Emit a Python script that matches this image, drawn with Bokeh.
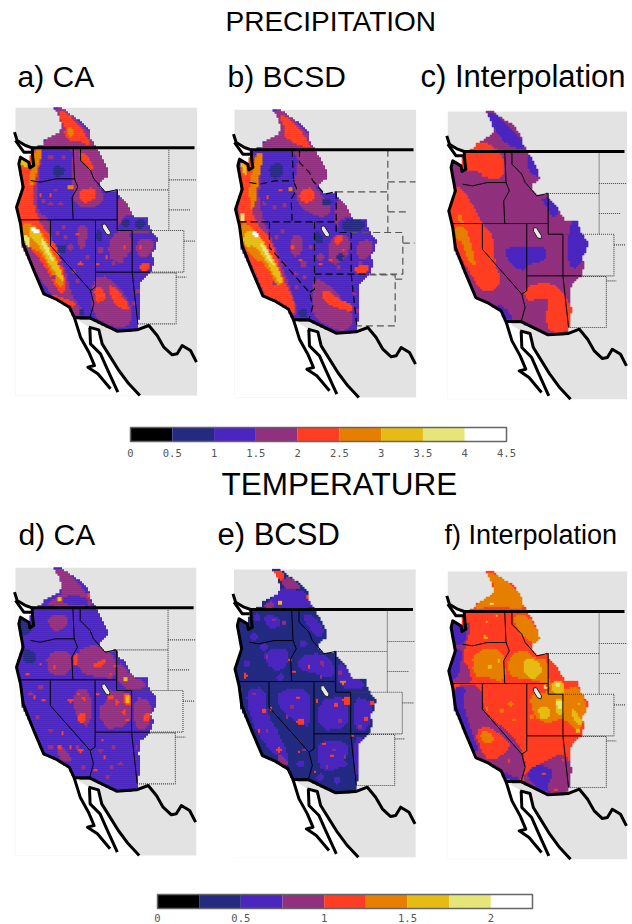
import numpy as np
from bokeh.plotting import figure
from bokeh.models import Range1d
from bokeh.core.properties import value
from bokeh.embed import file_html
from bokeh.resources import INLINE

# ---------- colour bins (shared by both colour bars) ----------
BIN_COLORS = ["#000000", "#232a80", "#4a25be", "#90307e", "#ff3d22",
              "#e67f00", "#e6bc14", "#e6e678", "#ffffff"]
PRECIP_EDGES = [0, 0.5, 1, 1.5, 2, 2.5, 3, 3.5, 4, 4.5]
PRECIP_LABELS = ["0", "0.5", "1", "1.5", "2", "2.5", "3", "3.5", "4", "4.5"]
TEMP_EDGES = [0, 0.25, 0.5, 0.75, 1, 1.25, 1.5, 1.75, 2, 2.25]
TEMP_TICKS = [0, 0.5, 1, 1.5, 2]
TEMP_LABELS = ["0", "0.5", "1", "1.5", "2"]

# ---------- shared geography ----------
DOMAIN = [(160,53),(185,53),(205,70),(240,90),(265,120),(270,145),(285,170),(300,195),(320,235),
          (322,255),(300,270),(298,285),(315,305),(348,298),(352,315),(375,335),(400,380),(440,378),
          (445,410),(470,445),(465,470),(450,490),(460,510),(450,545),(420,570),(415,610),(420,650),
          (412,700),(410,718),(350,722),(270,685),(220,682),(205,650),(165,625),(130,610),(100,540),
          (65,470),(60,400),(48,350),(65,290),(55,220),(60,200),(85,215),(95,170),(125,165),(130,150),
          (165,130),(175,125),(185,110),(175,75)]
OCEAN = [(45,150),(75,168),(95,178),(100,225),(88,232),(85,215),(60,200),(68,290),(48,350),(60,400),
         (68,460),(100,540),(130,610),(165,625),(210,650),(222,682),(250,700),(265,710),(295,720),
         (305,760),(330,800),(355,840),(385,880),(415,915),(45,915)]
LAND_RECT = [(45,52),(590,52),(590,915),(45,915)]
LAKE = [(305,402),(314,400),(330,425),(328,434),(318,431),(306,412)]
BORDER_CANADA = [(95,172),(582,172)]
COAST_LINES = [
    [(42,125),(50,150),(75,165),(95,172),(97,205),(100,225),(88,232),(85,215),(60,200),(55,220),
     (68,290),(48,350),(60,400),(68,460),(100,540),(130,610),(165,625),(207,650),(222,682),
     (268,682),(350,722),(410,718),(445,705),(470,735),(490,770),(515,793),(530,790),(545,765),
     (570,780),(588,815)],
    [(45,150),(70,185),(92,185)],
    [(222,682),(240,740),(265,785),(282,825),(262,830),(292,850),(330,895)],
    [(268,712),(270,760),(300,790),(320,835),(352,905)],
    [(265,710),(295,718),(305,760),(330,800),(355,840),(385,880),(418,915)],
]
STATE_LINES = [
    [(90,270),(120,275),(165,265),(225,265)],
    [(218,172),(222,265),(232,290),(215,320),(218,388)],
    [(60,388),(350,388)],
    [(240,172),(240,210),(270,240),(280,265),(298,285),(315,305),(348,298)],
    [(350,298),(350,420),(395,420),(395,545)],
    [(285,388),(285,590),(270,600)],
    [(285,545),(450,545)],
    [(150,388),(150,465),(270,600),(280,640),(268,682)],
    [(395,545),(412,700)],
]
EAST_LINES = [
    [(505,172),(505,420)],
    [(505,268),(588,268)],
    [(350,298),(505,298)],
    [(505,358),(570,358)],
    [(395,420),(550,420),(550,545),(450,545)],
    [(550,452),(585,452)],
    [(450,547),(527,547),(527,700),(412,700)],
    [(527,560),(558,560)],
]

# ---------- panel colour regions: (bin, outline) in each panel's own sketch units ----------
BLOBS_A = [
 (3,[(120,175),(130,150),(165,130),(180,120),(160,50),(195,55),(265,120),(285,170),(325,235),(325,260),(290,285),(280,260),(240,215),(215,175)]),
 (4,[(175,60),(200,65),(240,110),(260,140),(272,165),(250,160),(230,150),(205,150),(190,130),(195,110),(180,90)]),
 (5,[(200,110),(215,112),(222,135),(205,138)]),
 (2,[(130,172),(215,172),(218,210),(200,250),(150,262),(125,240)]),
 (3,[(215,180),(245,195),(280,270),(312,310),(305,340),(260,355),(220,340),(215,280)]),
 (4,[(235,300),(280,290),(290,320),(255,340),(235,325)]),
 (4,[(240,180),(265,200),(285,240),(270,235),(240,205)]),
 (3,[(60,195),(125,170),(120,230),(110,300),(110,360),(150,390),(150,450),(195,530),(215,620),(250,660),(225,680),(165,630),(100,540),(50,440),(45,350),(55,290)]),
 (4,[(60,200),(125,175),(115,230),(95,310),(110,385),(160,450),(185,520),(200,600),(175,610),(130,520),(85,470),(50,390),(55,290)]),
 (5,[(100,180),(130,175),(115,220),(100,280),(85,290),(90,240)]),
 (5,[(65,395),(100,400),(135,440),(175,520),(195,580),(175,590),(145,530),(115,480),(80,470),(60,440)]),
 (6,[(85,405),(115,420),(150,480),(185,545),(190,575),(175,565),(140,510),(110,455),(90,445)]),
 (7,[(118,440),(135,452),(165,520),(157,518),(128,470)]),
 (8,[(92,410),(112,413),(118,430),(100,430)]),
 (7,[(68,430),(90,440),(90,470),(75,465)]),
 (6,[(55,205),(85,215),(80,230),(60,225)]),
 (4,[(145,612),(185,620),(230,640),(215,650),(170,632)]),
 (3,[(280,560),(325,555),(395,640),(395,700),(350,715),(280,680),(270,620)]),
 (2,[(345,560),(395,555),(395,620)]),
 (4,[(320,585),(345,590),(390,650),(375,660),(340,640)]),
 (4,[(280,590),(310,590),(315,630),(285,640)]),
 (3,[(320,460),(350,420),(395,430),(395,490),(330,520)]),
 (3,[(405,455),(440,440),(465,460),(445,500),(410,500)]),
 (3,[(350,310),(375,335),(400,375),(370,375),(350,420)]),
 (3,[(350,420),(445,420),(445,430),(350,430)]),
 (4,[(415,520),(445,515),(445,540),(420,540)]),
 (3,[(225,410),(265,400),(255,470),(235,480)]),
 (1,[(160,225),(195,230),(190,255),(160,260)]),
 (1,[(365,385),(390,385),(385,410),(365,410)]),
 (1,[(405,385),(435,385),(430,415),(405,415)]),
 (1,[(290,410),(305,430),(305,450),(285,450)]),
 (1,[(172,460),(198,465),(195,490),(175,490)]),
 (1,[(235,655),(250,655),(250,675),(238,675)]),
]
BLOBS_B = [
 (3,[(120,180),(130,155),(160,130),(180,120),(158,55),(190,60),(262,125),(282,175),(320,240),(320,265),(290,290),(270,250),(235,210),(215,180)]),
 (4,[(175,75),(195,75),(240,120),(262,150),(272,175),(240,165),(215,155),(190,135),(195,115)]),
 (2,[(135,185),(215,185),(218,260),(130,320),(115,310),(125,240)]),
 (1,[(145,225),(185,215),(190,260),(150,265)]),
 (3,[(235,190),(270,225),(285,290),(310,320),(340,360),(300,385),(235,350),(220,290)]),
 (4,[(240,300),(275,290),(285,320),(260,340),(235,325)]),
 (3,[(55,215),(125,185),(120,240),(115,330),(130,395),(150,430),(190,540),(225,630),(230,685),(205,660),(130,625),(90,530),(50,430),(48,340)]),
 (4,[(55,215),(105,190),(85,300),(100,390),(150,440),(190,570),(225,640),(225,680),(180,630),(140,625),(110,560),(60,450),(50,350)]),
 (5,[(105,190),(130,190),(115,260),(105,340),(90,360),(85,290),(95,240)]),
 (6,[(55,215),(80,225),(75,260),(65,235)]),
 (5,[(60,395),(100,410),(140,470),(190,570),(170,590),(135,520),(90,500),(60,440)]),
 (6,[(85,420),(115,430),(150,490),(185,560),(185,585),(165,565),(130,500),(100,465),(75,470),(65,440)]),
 (7,[(60,365),(72,370),(72,395),(60,395)]),
 (7,[(118,455),(135,465),(165,530),(155,525),(128,485)]),
 (8,[(92,422),(112,425),(118,440),(98,438)]),
 (3,[(280,560),(325,580),(395,660),(395,715),(350,722),(280,685),(272,620)]),
 (4,[(300,600),(330,600),(350,625),(395,640),(395,665),(345,650),(310,635)]),
 (3,[(320,465),(345,430),(390,440),(385,500),(330,530)]),
 (3,[(405,460),(440,445),(462,460),(445,505),(410,505)]),
 (4,[(400,530),(440,520),(445,545),(410,550)]),
 (4,[(340,440),(370,430),(365,455),(345,465)]),
 (3,[(205,440),(250,430),(245,490),(215,505)]),
 (3,[(345,320),(375,340),(395,380),(360,385),(345,425)]),
 (1,[(365,385),(432,385),(430,420),(365,425)]),
 (1,[(285,420),(305,430),(305,460),(285,460)]),
 (1,[(305,325),(335,330),(330,345),(305,345)]),
 (1,[(350,490),(370,490),(368,515),(350,512)]),
 (1,[(235,660),(258,655),(258,680),(238,680)]),
]
BLOBS_C = [
 (2,[(165,65),(190,65),(240,110),(275,150),(285,180),(230,165),(195,120),(180,95)]),
 (2,[(290,185),(305,200),(330,240),(325,260),(300,250),(290,225)]),
 (2,[(330,325),(360,320),(390,360),(365,385),(350,350)]),
 (2,[(420,390),(445,395),(475,455),(465,495),(440,535),(415,525),(410,470)]),
 (2,[(225,470),(285,470),(350,470),(345,510),(300,520),(270,545),(225,500)]),
 (2,[(195,640),(225,650),(250,690),(220,685)]),
 (4,[(105,185),(135,155),(165,155),(220,190),(220,265),(170,265),(140,240),(100,245),(90,225)]),
 (4,[(75,280),(100,300),(130,350),(155,400),(190,440),(190,510),(215,575),(185,605),(150,600),(115,540),(70,470),(55,380),(65,320)]),
 (5,[(80,380),(90,370),(100,400),(95,405)]),
 (5,[(70,410),(105,405),(130,490),(135,530),(110,505),(95,455),(75,445)]),
 (4,[(280,590),(345,575),(385,590),(420,640),(430,680),(415,725),(355,725),(345,680),(355,630),(335,620),(285,635)]),
]
BLOBS_D = [
 (3,[(160,55),(195,55),(260,130),(280,170),(130,170),(165,140),(185,130),(180,90)]),
 (2,[(190,135),(250,135),(270,168),(185,160)]),
 (3,[(135,195),(205,195),(195,235),(155,245)]),
 (3,[(225,300),(290,280),(345,315),(345,385),(290,380),(235,365)]),
 (3,[(350,320),(395,380),(430,390),(435,415),(355,415)]),
 (3,[(295,415),(390,425),(390,530),(300,535)]),
 (3,[(400,435),(460,455),(445,535),(400,535)]),
 (3,[(135,310),(210,295),(210,375),(145,375)]),
 (3,[(215,420),(270,410),(270,540),(225,500)]),
 (3,[(175,580),(215,620),(205,640),(170,620)]),
 (1,[(50,205),(90,210),(90,250),(60,260)]),
 (1,[(65,290),(110,310),(100,340),(70,340)]),
 (2,[(300,400),(325,440),(300,470),(285,440)]),
 (4,[(222,305),(232,310),(230,345),(218,340)]),
 (4,[(230,490),(255,485),(255,515),(235,518)]),
 (4,[(275,340),(315,325),(318,340),(280,355)]),
 (4,[(365,430),(395,430),(395,465),(370,465)]),
 (6,[(372,435),(390,435),(388,458),(375,458)]),
 (4,[(430,490),(450,490),(448,515),(432,515)]),
]
BLOBS_E = [
 (2,[(125,178),(165,125),(190,110),(200,110),(270,130),(282,178)]),
 (3,[(175,85),(215,80),(245,118),(205,118),(190,105)]),
 (4,[(155,60),(185,60),(195,85),(175,92)]),
 (3,[(125,170),(150,150),(160,160),(155,175)]),
 (2,[(130,300),(205,290),(200,345),(170,365),(135,340)]),
 (2,[(125,195),(170,195),(185,225),(150,240)]),
 (2,[(240,190),(280,195),(312,235),(300,265),(270,240)]),
 (2,[(235,320),(300,305),(340,335),(340,385),(285,370),(235,355)]),
 (2,[(350,325),(385,365),(425,390),(435,415),(355,415)]),
 (2,[(170,420),(270,410),(270,530),(235,520),(170,470)]),
 (2,[(290,450),(385,435),(385,535),(295,540)]),
 (2,[(400,435),(460,455),(445,540),(400,540)]),
 (2,[(75,415),(135,410),(140,490),(180,555),(210,635),(180,625),(135,585),(90,510)]),
 (2,[(290,570),(380,570),(385,620),(330,670),(290,645)]),
 (2,[(400,560),(435,560),(412,610),(415,665),(400,685)]),
 (4,[(365,440),(390,438),(388,465),(370,465)]),
 (3,[(170,610),(200,625),(205,650),(175,635)]),
]
BLOBS_F = [
 (5,[(165,37),(190,37),(240,70),(275,110),(280,150),(225,140),(190,135),(130,150),(140,128),(185,100),(195,80),(180,60)]),
 (5,[(245,165),(290,160),(330,225),(320,250),(285,235),(265,215)]),
 (5,[(280,260),(320,300),(350,290),(355,370),(400,390),(440,370),(470,430),(450,520),(400,470),(350,490),(310,470),(295,400),(355,395),(355,370),(290,355),(240,350),(225,300)]),
 (5,[(130,270),(220,260),(225,370),(175,350),(125,345)]),
 (3,[(95,190),(125,190),(105,255),(95,300),(115,320),(125,370),(65,370),(55,340),(70,260)]),
 (2,[(55,185),(100,190),(110,220),(100,250),(75,260),(60,220)]),
 (2,[(70,265),(95,265),(90,310),(85,345),(65,360),(55,340)]),
 (3,[(65,375),(155,375),(155,440),(190,480),(245,520),(285,590),(280,660),(230,660),(150,600),(90,510),(60,430)]),
 (2,[(70,380),(110,380),(95,420),(110,470),(125,520),(145,570),(125,570),(90,510),(65,440)]),
 (4,[(130,510),(175,495),(230,540),(240,560),(195,600),(160,590)]),
 (5,[(145,515),(175,510),(195,540),(165,555)]),
 (2,[(160,600),(230,640),(280,660),(225,660)]),
 (3,[(280,640),(345,600),(400,575),(430,625),(415,700),(355,705),(280,670)]),
 (2,[(290,630),(330,610),(370,630),(350,680),(360,700),(300,670)]),
 (6,[(280,290),(320,300),(340,330),(310,360),(280,340)]),
 (6,[(360,360),(400,360),(400,400),(370,405)]),
 (6,[(370,415),(400,415),(400,460),(380,465)]),
 (7,[(375,420),(395,420),(393,445),(382,445)]),
 (7,[(375,368),(390,368),(388,380),(378,380)]),
 (6,[(420,440),(450,470),(455,500),(430,480)]),
 (6,[(320,440),(360,440),(360,470),(330,480)]),
]

# small isolated cells: (x, y, bin, size class 0/1/2)
SPOTS_A = [(150,315,4,0),(230,430,4,0),(240,520,4,1),(320,500,4,0),(290,520,4,0),(120,315,4,0),(370,470,4,0),(420,470,4,0),(210,290,5,1),
           (170,430,3,1),(190,410,3,1),(240,450,3,2),(260,500,3,1),(180,520,3,1),(220,540,3,1),(300,480,3,2),(360,510,3,2),(420,480,3,1),
           (130,330,3,1),(150,340,3,1),(180,340,3,1),(160,560,3,1),(230,570,3,1),(330,670,3,1),(340,520,3,1),(210,470,3,2),(195,440,3,1),
           (165,300,3,0),(150,200,3,1),(190,200,3,1),(400,640,3,1),(410,600,3,1)]
SPOTS_B = [(210,295,5,1),(240,510,4,0),(330,510,4,0),(300,520,4,0),(140,320,4,0),(215,470,4,1),(370,480,4,0),(180,300,4,0),
           (170,440,3,1),(185,420,3,1),(250,520,3,2),(270,470,3,1),(190,520,3,1),(225,550,3,1),(300,500,3,2),(355,530,3,1),(420,520,3,1),
           (130,340,3,1),(160,350,3,1),(190,345,3,1),(160,580,3,1),(230,590,3,1),(250,560,3,1),(410,660,3,1),(400,610,3,1)]
SPOTS_C = [(155,258,4,0),(405,625,4,0)]
SPOTS_D = [(178,148,6,1),(265,135,4,1),(375,388,6,1),(350,455,4,1),(210,450,4,1),(178,592,4,1),(240,600,4,1),(370,485,4,1),
           (330,440,4,1),(235,432,4,0),(305,568,4,0),(285,660,4,0),(310,620,4,0),(120,340,4,0),(80,370,4,0),(130,450,4,0),
           (210,590,4,0),(100,440,4,0),(185,548,4,0),(145,640,4,0),(330,370,4,0),(345,345,4,0),(160,350,4,0),(290,430,4,0),
           (250,445,4,0),(380,510,4,0),(190,200,3,1),(360,640,3,1),(335,650,3,1),(90,430,3,1),(120,410,3,1),(110,500,3,1),
           (150,540,3,1),(230,590,3,1),(300,600,3,1),(340,590,3,1),(320,680,3,1),(250,650,3,1),(150,590,3,1),(410,590,3,0)]
SPOTS_E = [(178,155,6,1),(262,140,4,1),(75,376,4,1),(368,395,5,1),(345,465,4,1),(240,513,4,2),(175,598,4,1),(132,480,4,1),
           (438,505,4,1),(455,458,4,1),(310,578,4,0),(335,615,4,0),(285,665,4,0),(232,440,4,0),(208,330,4,0),(265,350,4,0),
           (220,365,4,0),(115,540,4,0),(150,475,4,0),(290,450,4,0),(395,555,4,0),(235,605,4,0),(182,378,3,0),(140,320,3,0),
           (305,340,3,1),(160,210,3,0),(190,215,3,1),(100,430,3,0),(215,470,3,1),(200,500,3,0),(360,510,3,1),(420,530,3,1),
           (360,365,3,1),(300,380,3,0),(340,600,3,0),(320,650,3,0),(375,620,3,0),(140,540,3,0),(75,490,4,0),(250,600,3,0),
           (110,200,2,2),(100,260,2,2),(80,340,2,2),(250,280,2,2),(60,420,2,1),(300,680,2,2),(350,690,2,2),(370,640,2,2),(240,640,2,2),
           (180,380,2,2),(130,290,2,2)]
SPOTS_F = [(185,130,7,0),(170,185,6,0),(200,165,6,0),(165,230,6,0),(215,450,5,1),(240,430,5,1),(250,480,5,0),(205,300,6,0),
           (180,320,6,1),(305,470,5,1),(440,510,6,1),(345,380,7,0),(300,620,4,0),(375,690,4,0),(340,640,4,0),(395,600,4,0),
           (235,600,4,0),(110,305,4,0),(445,430,6,0),(170,445,5,0),(130,300,5,0)]

# panel origins of the geography and of each panel's own colour sketches
GEO_ORIGIN = {"a":(0,90,1.0),"b":(219,92,1.0),"c":(432.3,93.7,0.987),"d":(0,550,0.995),"e":(218.5,551.7,1.0),"f":(432.3,553.7,0.987)}
SKETCH_ORIGIN = {"a":(0,90),"b":(220,90),"c":(430,90),"d":(0,550),"e":(220,550),"f":(430,560)}
BASE_BIN = {"a":2,"b":2,"c":3,"d":2,"e":1,"f":4}
BLOBS = {"a":BLOBS_A,"b":BLOBS_B,"c":BLOBS_C,"d":BLOBS_D,"e":BLOBS_E,"f":BLOBS_F}
SPOTS = {"a":SPOTS_A,"b":SPOTS_B,"c":SPOTS_C,"d":SPOTS_D,"e":SPOTS_E,"f":SPOTS_F}
LINE_STYLE = {"a":"solid","b":"dashed","c":"solid","d":"solid","e":"solid","f":"solid"}

TITLES = [("PRECIPITATION",225,21,"28px"),("TEMPERATURE",221,483,"31.5px")]
PANEL_LABELS = [("a) CA",17,76,"30px"),("b) BCSD",227,76,"30px"),("c) Interpolation",420,76,"31px"),
                ("d) CA",18,534,"30px"),("e) BCSD",217,534,"31px"),("f) Interpolation",444,534,"27px")]

CELL = 2.0  # px size of the drawn raster cells
OVERLAP = 0.5  # cells overlap slightly so that no seams show

def rounded(pts):
    out = []
    for i, (x, y) in enumerate(pts):
        nx, ny = pts[(i + 1) % len(pts)]
        out.append((0.75*x + 0.25*nx, 0.75*y + 0.25*ny))
        out.append((0.25*x + 0.75*nx, 0.25*y + 0.75*ny))
    return out

def inside(px, py, poly_x, poly_y):
    mask = np.zeros(px.shape, dtype=bool)
    n = len(poly_x)
    for i in range(n):
        x1, y1, x2, y2 = poly_x[i], poly_y[i], poly_x[(i+1) % n], poly_y[(i+1) % n]
        if y1 == y2:
            continue
        crosses = (y1 > py) != (y2 > py)
        mask ^= crosses & (px < x1 + (py - y1) * (x2 - x1) / (y2 - y1))
    return mask

p = figure(width=630, height=922, x_range=Range1d(0,630), y_range=Range1d(922,0),
           output_backend="svg", toolbar_location=None, min_border=0)
p.xaxis.visible = False
p.yaxis.visible = False
p.grid.visible = False
p.outline_line_color = None
p.background_fill_color = "white"

GRAY = "#e3e3e3"

for k in "abcdef":
    ox, oy, sx = GEO_ORIGIN[k]
    gx = lambda pts: [ox + (x-45)*sx/3 + 15 for x, y in pts]
    gy = lambda pts: [oy + y/3 for x, y in pts]
    sox, soy = SKETCH_ORIGIN[k]
    p.patch(gx(LAND_RECT), gy(LAND_RECT), fill_color=GRAY, line_color=None)
    p.patch(gx(OCEAN), gy(OCEAN), fill_color="white", line_color=None)

    # paint the regions onto a raster and draw it as run-length cells
    dx, dy = gx(DOMAIN), gy(DOMAIN)
    cols = np.arange(min(dx), max(dx) + CELL, CELL)
    rows = np.arange(min(dy), max(dy) + CELL, CELL)
    PX, PY = np.meshgrid(cols, rows)
    grid = np.full(PX.shape, BASE_BIN[k])
    for b, pts in BLOBS[k]:
        pts = rounded(pts)
        grid[inside(PX, PY, [sox + x/3 for x, y in pts], [soy + y/3 for x, y in pts])] = b
    for sxp, syp, b, sc in SPOTS[k]:
        r = {0:1.5, 1:2.3, 2:3.6}[sc]
        grid[(PX - (sox + sxp/3))**2 + (PY - (soy + syp/3))**2 <= r*r] = b
    grid[~inside(PX, PY, dx, dy)] = -1
    left, right, top, bottom, colors = [], [], [], [], []
    for j, yc in enumerate(rows):
        i = 0
        while i < len(cols):
            b = grid[j, i]
            e = i
            while e + 1 < len(cols) and grid[j, e + 1] == b:
                e += 1
            if b >= 0:
                left.append(cols[i] - CELL/2); right.append(cols[e] + CELL/2 + OVERLAP)
                top.append(yc - CELL/2); bottom.append(yc + CELL/2 + OVERLAP)
                colors.append(BIN_COLORS[b])
            i = e + 1
    p.quad(left=left, right=right, top=top, bottom=bottom, fill_color=colors, line_color=None)

    if LINE_STYLE[k] == "dashed":
        p.multi_line([gx(l) for l in STATE_LINES], [gy(l) for l in STATE_LINES],
                     line_color="black", line_width=1.2, line_dash="7 4")
        p.multi_line([gx(l) for l in EAST_LINES], [gy(l) for l in EAST_LINES],
                     line_color="#555555", line_width=1.2, line_dash="7 4")
    else:
        p.multi_line([gx(l) for l in STATE_LINES], [gy(l) for l in STATE_LINES],
                     line_color="black", line_width=1)
        p.multi_line([gx(l) for l in EAST_LINES], [gy(l) for l in EAST_LINES],
                     line_color="#444444", line_width=1.1, line_dash="1 1")
    p.multi_line([gx(l) for l in COAST_LINES], [gy(l) for l in COAST_LINES],
                 line_color="black", line_width=3, line_join="round")
    p.line(gx(BORDER_CANADA), gy(BORDER_CANADA), line_color="black", line_width=3)
    p.patch(gx(LAKE), gy(LAKE), fill_color="#e8e8e8", line_color="#222222", line_width=1)

def colorbar(edges, ticks, labels, x0, x1, y0, y1, ly):
    vmax = edges[-1]
    sx = lambda v: x0 + (x1-x0)*v/vmax
    p.quad(left=[sx(v) for v in edges[:-1]], right=[sx(v) for v in edges[1:]],
           top=[y0]*9, bottom=[y1]*9, fill_color=BIN_COLORS, line_color=None)
    p.quad(left=[x0], right=[x1], top=[y0], bottom=[y1], fill_color=None,
           line_color="#666666", line_width=1.5)
    p.text([sx(v) for v in ticks], [ly]*len(ticks), text=labels,
           text_font=value("DejaVu Sans Mono"), text_font_size="10.5px",
           text_color="#555555", text_align="center", text_baseline="middle")

colorbar(PRECIP_EDGES, PRECIP_EDGES, PRECIP_LABELS, 130, 506, 427, 441, 452)
colorbar(TEMP_EDGES, TEMP_TICKS, TEMP_LABELS, 157, 532, 894, 908, 917)

for txt, x, y, fs in TITLES + PANEL_LABELS:
    p.text([x], [y], text=[txt], text_font=value("Liberation Sans"), text_font_size=fs,
           text_color="black", text_align="left", text_baseline="middle")

open("out.html", "w").write(file_html(p, INLINE))
